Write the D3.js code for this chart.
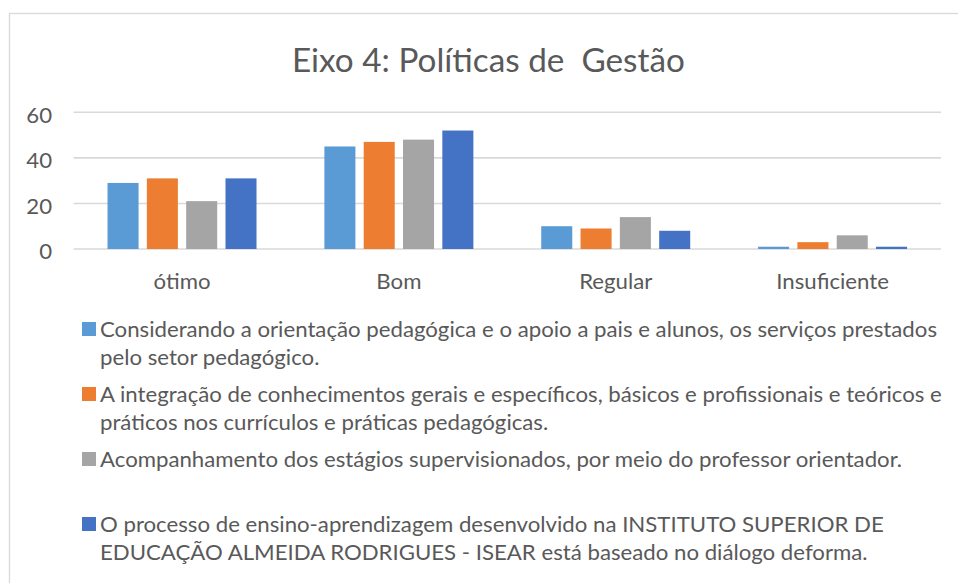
<!DOCTYPE html>
<html>
<head>
<meta charset="utf-8">
<script src="https://cdn.jsdelivr.net/npm/d3@7"></script>
<style>
  html, body { margin: 0; padding: 0; background: #ffffff; }
  svg { display: block; }
  text { font-family: Lato, "Open Sans", sans-serif; fill: #595959; }
</style>
</head>
<body>
<svg id="chart" width="958" height="583"></svg>
<script>
// ---- data ----
const title = "Eixo 4: Políticas de  Gestão";
const categories = ["ótimo", "Bom", "Regular", "Insuficiente"];
const seriesNames = [
  "Considerando a orientação pedagógica e o apoio a pais e alunos, os serviços prestados pelo setor pedagógico.",
  "A integração de conhecimentos gerais e específicos, básicos e profissionais e teóricos e práticos nos currículos e práticas pedagógicas.",
  "Acompanhamento dos estágios supervisionados, por meio do professor orientador.",
  "O processo de ensino-aprendizagem desenvolvido na INSTITUTO SUPERIOR DE EDUCAÇÃO ALMEIDA RODRIGUES - ISEAR está baseado no diálogo deforma."
];
// legend lines as wrapped in the reference
const legendLines = [
  ["Considerando a orientação pedagógica e o apoio a pais e alunos, os serviços prestados", "pelo setor pedagógico."],
  ["A integração de conhecimentos gerais e específicos, básicos e profissionais e teóricos e", "práticos nos currículos e práticas pedagógicas."],
  ["Acompanhamento dos estágios supervisionados, por meio do professor orientador.", ""],
  ["O processo de ensino-aprendizagem desenvolvido na INSTITUTO SUPERIOR DE", "EDUCAÇÃO ALMEIDA RODRIGUES - ISEAR está baseado no diálogo deforma."]
];
const series1 = [29, 45, 10, 1];
const series2 = [31, 47, 9, 3];
const series3 = [21, 48, 14, 6];
const series4 = [31, 52, 8, 1];
const seriesValues = [series1, series2, series3, series4];
const colors = ["#5B9BD5", "#ED7D31", "#A5A5A5", "#4472C4"];
const yTicks = [0, 20, 40, 60];

// ---- layout ----
const svg = d3.select("#chart");
const plot = { left: 73.6, right: 941, top: 112.3, bottom: 249 };
const smallSize = 20.5;

// frame
svg.append("rect")
  .attr("x", 9.5).attr("y", 13.5)
  .attr("width", 1000).attr("height", 600)
  .attr("fill", "#fff").attr("stroke", "#d9d9d9").attr("stroke-width", 1.3);

// measure compression factor for small text (legend first line target width 837)
const probe = svg.append("text").attr("font-size", smallSize).text(legendLines[0][0]);
const kSmall = 837 / probe.node().getComputedTextLength();
probe.remove();
function fit(sel, k) {
  sel.each(function () {
    const w = this.getComputedTextLength();
    if (w > 0) d3.select(this).attr("textLength", w * k).attr("lengthAdjust", "spacingAndGlyphs");
  });
}

// scales
const x0 = d3.scaleBand().domain(categories).range([plot.left, plot.right])
  .paddingInner(0.313).paddingOuter(0.1565);
const x1 = d3.scaleBand().domain(d3.range(seriesValues.length)).range([0, x0.bandwidth()])
  .paddingInner(0.211);
const y = d3.scaleLinear().domain([0, 60]).range([plot.bottom, plot.top]);

// gridlines
svg.append("g").selectAll("line").data(yTicks).join("line")
  .attr("x1", plot.left).attr("x2", plot.right)
  .attr("y1", d => y(d)).attr("y2", d => y(d))
  .attr("stroke", "#d9d9d9").attr("stroke-width", 1.6);

// y axis labels
const yAxis = d3.axisLeft(y).tickValues(yTicks).tickSize(0).tickPadding(0);
const yg = svg.append("g").attr("transform", `translate(52,0)`).call(yAxis);
yg.select(".domain").remove();
yg.attr("font-family", null).attr("font-size", null);
yg.selectAll("text").attr("font-size", smallSize).attr("dy", "0.48em").style("fill", "#595959");
fit(yg.selectAll("text"), kSmall);

// bars
const groups = svg.append("g").selectAll("g").data(categories).join("g")
  .attr("transform", d => `translate(${x0(d)},0)`);
groups.selectAll("rect").data((c, ci) => seriesValues.map((s, si) => ({ si, v: s[ci] }))).join("rect")
  .attr("x", d => x1(d.si)).attr("width", x1.bandwidth())
  .attr("y", d => y(d.v)).attr("height", d => y(0) - y(d.v))
  .attr("fill", d => colors[d.si]);

// x axis labels
const xAxis = d3.axisBottom(x0).tickSize(0).tickPadding(0);
const xg = svg.append("g").attr("transform", `translate(0,${plot.bottom})`).call(xAxis);
xg.select(".domain").remove();
xg.attr("font-family", null).attr("font-size", null);
xg.selectAll("text").attr("font-size", smallSize).attr("y", 40).attr("dy", null).style("fill", "#595959");
fit(xg.selectAll("text"), kSmall);

// title (keeps the double space)
svg.append("text").attr("x", 488.4).attr("y", 72).attr("text-anchor", "middle")
  .attr("font-size", 32).style("white-space", "pre").attr("xml:space", "preserve")
  .text(title)
  .attr("textLength", 393).attr("lengthAdjust", "spacingAndGlyphs");

// legend
const lineH = 28, itemGap = 9;
let baseY = 337;
const leg = svg.append("g");
legendLines.forEach((lines, i) => {
  const g = leg.append("g");
  g.append("rect").attr("x", 82).attr("y", baseY - 15).attr("width", 14).attr("height", 14)
    .attr("fill", colors[i]);
  lines.forEach((ln, j) => {
    const tx = g.append("text").attr("x", 100).attr("y", baseY + j * lineH)
      .attr("font-size", smallSize).text(ln);
    fit(tx, kSmall);
  });
  baseY += lines.length * lineH + itemGap;
});
</script>
</body>
</html>
